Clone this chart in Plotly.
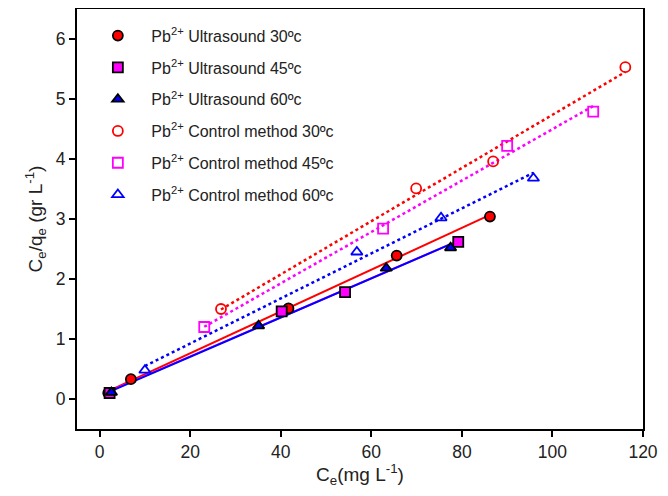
import numpy as np
import plotly.graph_objects as go

# Data
us30_x = [1.9, 6.9, 41.7, 65.6, 86.2]
us30_y = [0.10, 0.33, 1.51, 2.39, 3.04]
us45_x = [2.2, 40.2, 54.2, 79.2]
us45_y = [0.10, 1.46, 1.78, 2.62]
us60_x = [2.6, 35.1, 63.3, 77.5]
us60_y = [0.11, 1.22, 2.18, 2.52]
cm30_x = [26.8, 69.9, 86.9, 116.1]
cm30_y = [1.50, 3.51, 3.96, 5.53]
cm45_x = [23.1, 62.6, 90.0, 109.0]
cm45_y = [1.20, 2.84, 4.22, 4.79]
cm60_x = [10.0, 56.8, 75.4, 95.8]
cm60_y = [0.48, 2.45, 3.02, 3.68]

x_ticks = [0, 20, 40, 60, 80, 100, 120]
y_ticks = [0, 1, 2, 3, 4, 5, 6]

series = [
    ("Pb<sup>2+</sup> Ultrasound 30ºc", us30_x, us30_y, "#ff0000", "circle", "solid"),
    ("Pb<sup>2+</sup> Ultrasound 45ºc", us45_x, us45_y, "#ff00ff", "square", "solid"),
    ("Pb<sup>2+</sup> Ultrasound 60ºc", us60_x, us60_y, "#0000ff", "triangle-up", "solid"),
    ("Pb<sup>2+</sup> Control method 30ºc", cm30_x, cm30_y, "#ff0000", "circle-open", "dot"),
    ("Pb<sup>2+</sup> Control method 45ºc", cm45_x, cm45_y, "#ff00ff", "square-open", "dot"),
    ("Pb<sup>2+</sup> Control method 60ºc", cm60_x, cm60_y, "#0000ff", "triangle-up-open", "dot"),
]

fig = go.Figure()

# regression lines first (under markers)
for name, xs, ys, col, sym, dash in series:
    xs_a = np.array(xs); ys_a = np.array(ys)
    m, b = np.polyfit(xs_a, ys_a, 1)
    lx = np.array([xs_a.min(), xs_a.max()])
    fig.add_trace(go.Scatter(x=lx, y=m * lx + b, mode="lines",
                             line=dict(color=col, width=2 if dash == "solid" else 2.5, dash=dash),
                             showlegend=False, hoverinfo="skip"))

for i, (name, xs, ys, col, sym, dash) in enumerate(series):
    if sym.endswith("open"):
        marker = dict(symbol=sym, size=10, color=col, line=dict(color=col, width=1.8))
    else:
        marker = dict(symbol=sym, size=10, color=col, line=dict(color="black", width=1.8))
    fig.add_trace(go.Scatter(x=xs, y=ys, mode="markers", name=name, marker=marker,
                             legendgroup="g%d" % i))

axis_common = dict(showline=True, linecolor="black", linewidth=2, mirror=True,
                   ticks="outside", ticklen=6, tickwidth=1.5, tickcolor="black",
                   showgrid=False, zeroline=False,
                   tickfont=dict(family="Liberation Sans, Arial", size=17.5, color="#222"))

fig.update_layout(
    width=652, height=480,
    margin=dict(l=69, r=17, t=1, b=59, autoexpand=False),
    paper_bgcolor="white", plot_bgcolor="white",
    font=dict(family="Liberation Sans, Arial", color="#222"),
    xaxis=dict(range=[-5, 120], tickvals=x_ticks, automargin=False,
               title=dict(text="C<sub>e</sub>(mg L<sup>-1</sup>)", font=dict(size=19), standoff=6),
               **axis_common),
    yaxis=dict(range=[-0.5, 6.5], tickvals=y_ticks, automargin=False,
               title=dict(text="C<sub>e</sub>/q<sub>e</sub> (gr L<sup>-1</sup>)", font=dict(size=19), standoff=8),
               **axis_common),
    legend=dict(x=0.013, y=0.977, xanchor="left", yanchor="top",
                bgcolor="rgba(0,0,0,0)", font=dict(size=16, color="#222"),
                tracegroupgap=8, itemwidth=57),
    showlegend=True,
)

fig.write_html("out.html")
